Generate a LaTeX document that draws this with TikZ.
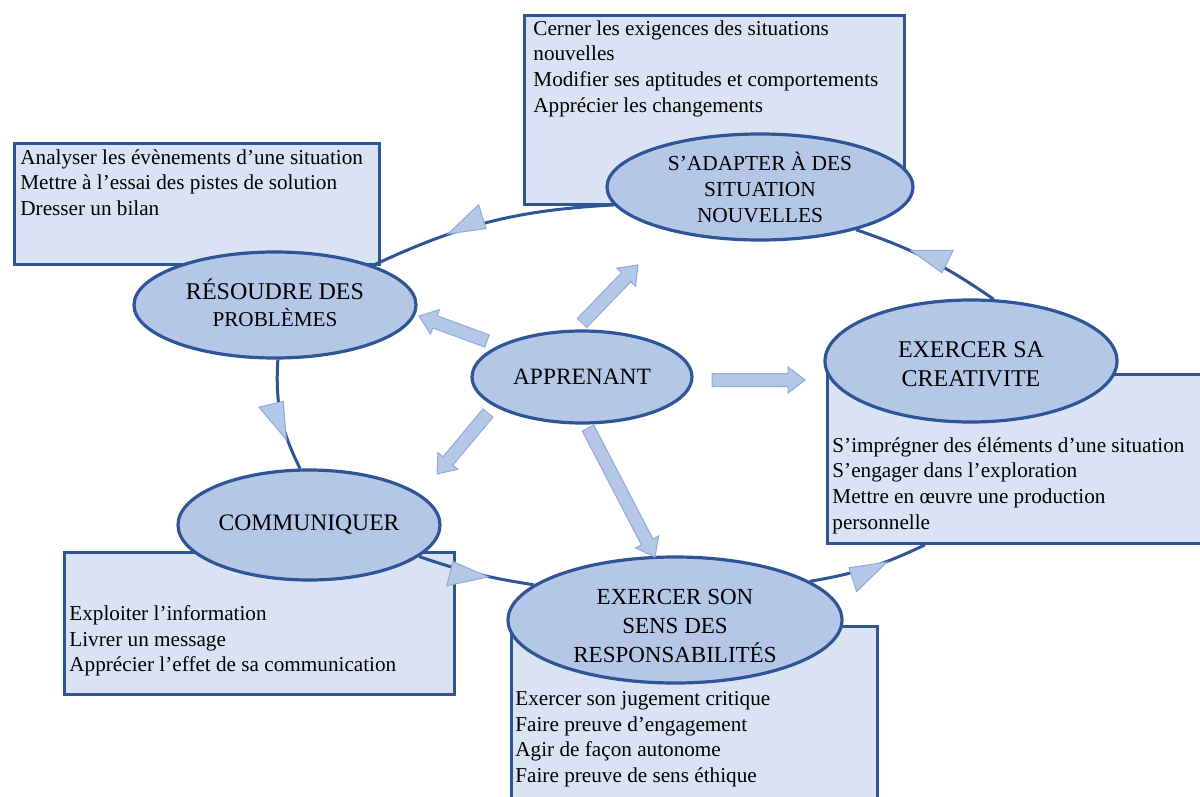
\documentclass[tikz,border=0pt]{standalone}
\usepackage{fontspec}
\setmainfont{Liberation Serif}
\usetikzlibrary{shapes.geometric,calc,decorations.markings}
\definecolor{dkblue}{HTML}{2F5597}
\definecolor{elfill}{HTML}{B4C7E7}
\definecolor{boxfill}{HTML}{DAE3F3}
\definecolor{arrline}{HTML}{8FAADC}
\newcommand{\blockarr}[2]{%
  \coordinate (nk) at ($(#2)!8.5pt!(#1)$);
  \draw[blockarrow] ($(#1)!3.25pt!90:(#2)$) -- ($(nk)!3.25pt!90:(#2)$) -- ($(nk)!6.5pt!90:(#2)$) -- (#2) -- ($(nk)!6.5pt!-90:(#2)$) -- ($(nk)!3.25pt!-90:(#2)$) -- ($(#1)!3.25pt!-90:(#2)$) -- cycle;}
\begin{document}
\begin{tikzpicture}[x=0.5pt,y=-0.5pt,
  bubble/.style={ellipse, draw=dkblue, fill=elfill, line width=1.6pt, inner sep=0pt, align=center},
  bubbletext/.style={inner sep=0pt, align=center},
  panel/.style={rectangle, draw=dkblue, fill=boxfill, line width=1.4pt, inner sep=0pt, anchor=north west},
  paneltext/.style={anchor=north west, inner sep=0pt, align=left, font=\fontsize{10.6}{12.85}\selectfont},
  blockarrow/.style={draw=arrline, fill=elfill, line width=0.5pt, line join=miter},
  cyc/.style={draw=dkblue, line width=1.5pt, postaction={decorate},
    decoration={markings, mark=at position #1 with {\draw[draw=arrline, fill=elfill, line width=0.5pt] (9.5pt,0pt) -- (-9.5pt,3pt) -- (-9.5pt,-9.5pt) -- cycle;}}}
]
\useasboundingbox (0,0) rectangle (1200,797);
\clip (0,0) rectangle (1200,797);
% panels
\node[panel, minimum width=190pt, minimum height=94.5pt] (pa) at (523,14) {};
\node[panel, minimum width=182.5pt, minimum height=60.5pt] (pr) at (13,142) {};
\node[panel, minimum width=207pt, minimum height=84.5pt] (pc) at (826,373) {};
\node[panel, minimum width=195pt, minimum height=71pt] (pm) at (63,551) {};
\node[panel, minimum width=183pt, minimum height=102.5pt] (ps) at (510,625) {};
% panel texts
\node[paneltext] (ta) at (533,20) {Cerner les exigences des situations\\nouvelles\\Modifier ses aptitudes et comportements\\Apprécier les changements};
\node[paneltext] (tr) at (20,149) {Analyser les évènements d’une situation\\Mettre à l’essai des pistes de solution\\Dresser un bilan};
\node[paneltext] (tc) at (832,437) {S’imprégner des éléments d’une situation\\S’engager dans l’exploration\\Mettre en œuvre une production\\personnelle};
\node[paneltext] (tm) at (69,605) {Exploiter l’information\\Livrer un message\\Apprécier l’effet de sa communication};
\node[paneltext] (ts) at (515,691) {Exercer son jugement critique\\Faire preuve d’engagement\\Agir de façon autonome\\Faire preuve de sens éthique};
% ellipses
\node[bubble, minimum width=153pt, minimum height=53pt, font=\fontsize{10.7}{13}\selectfont] (adapt) at (760,187) {S’ADAPTER À DES\\SITUATION\\NOUVELLES};
\node[bubble, minimum width=141pt, minimum height=53pt] (res) at (275,305) {};
\node[bubbletext, font=\fontsize{12}{13.5}\selectfont] (rest) at (275,303) {RÉSOUDRE DES\\{\fontsize{10.6}{13.5}\selectfont PROBLÈMES}};
\node[bubble, minimum width=110pt, minimum height=46pt, font=\fontsize{11.7}{14}\selectfont] (app) at (582,377) {APPRENANT};
\node[bubble, minimum width=146pt, minimum height=61pt] (crea) at (971,361) {};
\node[bubbletext, font=\fontsize{12}{14.5}\selectfont] (creat) at (971,364) {EXERCER SA\\CREATIVITE};
\node[bubble, minimum width=131pt, minimum height=55pt, font=\fontsize{11.8}{14}\selectfont] (comm) at (309,525) {COMMUNIQUER};
\node[bubble, minimum width=167pt, minimum height=63pt] (sens) at (675,620) {};
\node[bubbletext, font=\fontsize{11.5}{14.7}\selectfont] (senst) at (675,626) {EXERCER SON\\SENS DES\\RESPONSABILITÉS};
% cycle
\draw[cyc=0.6] (adapt.187) to[bend right=11] (res.22);
\draw[cyc=0.55] (res.273) to[bend right=15] (comm.99);
\draw[cyc=0.45] (comm.344) to[bend right=5] (sens.166);
\coordinate (pcend) at ($(pc.south west)+(99,0)$);
\draw[cyc=0.5] (sens.16) to[bend right=8] (pcend);
\draw[cyc=0.5] (crea.70) to[bend right=8] (adapt.336);
% block arrows
\coordinate (a1s) at (582,323); \coordinate (a1e) at (638,265);
\coordinate (a2s) at (487,341); \coordinate (a2e) at (419,316);
\coordinate (a3s) at (712,380); \coordinate (a3e) at (805,380);
\coordinate (a4s) at (488,413); \coordinate (a4e) at (437,474);
\coordinate (a5s) at (588,428); \coordinate (a5e) at (655,557);
\blockarr{a1s}{a1e}
\blockarr{a2s}{a2e}
\blockarr{a3s}{a3e}
\blockarr{a4s}{a4e}
\blockarr{a5s}{a5e}
\end{tikzpicture}
\end{document}
